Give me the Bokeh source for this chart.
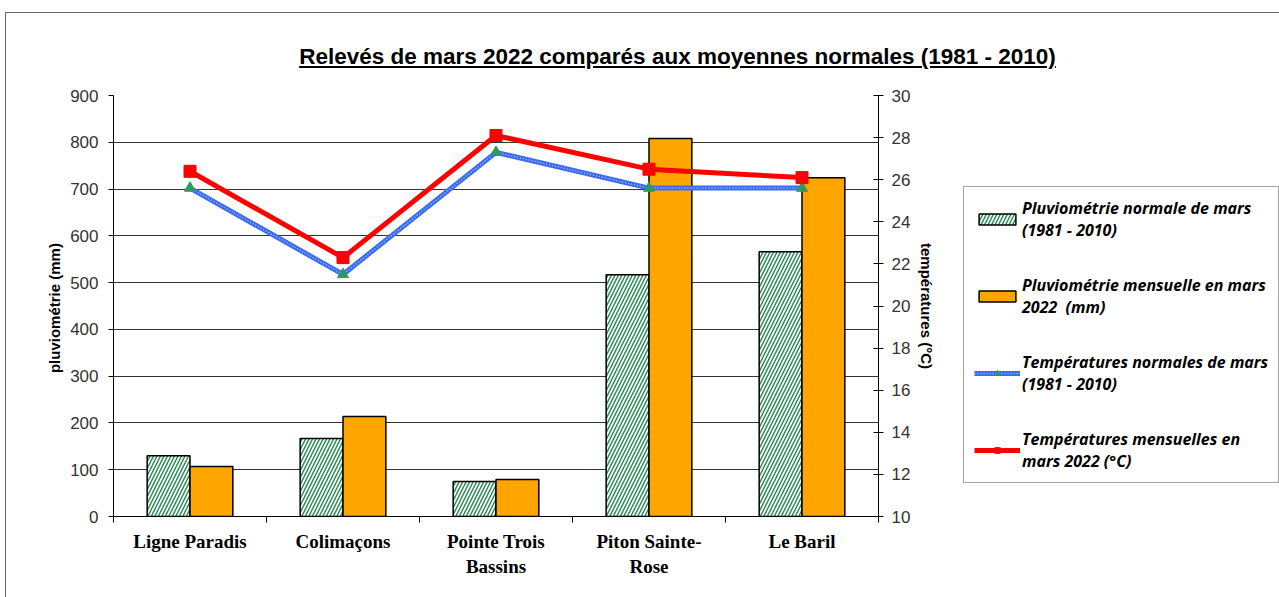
import numpy as np
from bokeh.plotting import figure
from bokeh.models import (Range1d, LinearAxis, FixedTicker, Legend, LegendItem, Grid, Div)
from bokeh.layouts import column, row
from bokeh.embed import file_html
from bokeh.resources import INLINE

title_text = "Relevés de mars 2022 comparés aux moyennes normales (1981 - 2010)"
stations = ["Ligne Paradis", "Colimaçons", "Pointe Trois\nBassins", "Piton Sainte-\nRose", "Le Baril"]
pluvio_normale = [130, 167, 75, 517, 566]
pluvio_2022 = [107, 214, 79, 808, 724]
temp_normale = [25.6, 21.5, 27.3, 25.6, 25.6]
temp_2022 = [26.4, 22.3, 28.1, 26.5, 26.1]
left_ticks = list(range(0, 1000, 100))
right_ticks = list(range(10, 32, 2))
legend_labels = ["Pluviométrie normale de mars\n(1981 - 2010)",
                 "Pluviométrie mensuelle en mars\n2022  (mm)",
                 "Températures normales de mars\n(1981 - 2010)",
                 "Températures mensuelles en\nmars 2022 (°C)"]

x = np.arange(len(stations)) + 0.5

p = figure(width=952, height=517, output_backend="svg", toolbar_location=None,
           x_range=Range1d(0, len(stations)), y_range=Range1d(0, 900),
           min_border_left=107, min_border_right=80, min_border_top=15, min_border_bottom=81,
           x_axis_type=None, y_axis_type=None)
p.outline_line_color = None
p.background_fill_color = "white"
p.border_fill_color = "white"
p.extra_y_ranges = {"temp": Range1d(10, 30)}

# axes
yl = LinearAxis(ticker=FixedTicker(ticks=left_ticks, minor_ticks=[]))
yl.axis_label = "pluviométrie  (mm)"
yr = LinearAxis(y_range_name="temp", ticker=FixedTicker(ticks=right_ticks, minor_ticks=[]))
yr.axis_label = "températures (°C)"
xa = LinearAxis(ticker=FixedTicker(ticks=list(x), minor_ticks=list(range(len(stations) + 1))))
xa.major_label_overrides = {float(v): s for v, s in zip(x, stations)}
for ax in (yl, yr, xa):
    ax.axis_line_color = "black"
    ax.axis_line_width = 1
    ax.major_tick_line_color = "black"
    ax.minor_tick_line_color = "black"
    ax.major_label_text_font = "Liberation Sans"
    ax.major_label_text_font_size = "17px"
    ax.major_label_text_color = "#333"
    ax.axis_label_text_font = "Liberation Sans"
    ax.axis_label_text_font_style = "bold"
    ax.axis_label_text_font_size = "15px"
    ax.axis_label_text_color = "black"
yl.major_tick_out = 5
yl.major_tick_in = 0
yl.major_label_standoff = 10
yl.axis_label_standoff = 4
yr.major_tick_out = 5
yr.major_tick_in = 5
yr.major_label_standoff = 8
yr.axis_label_standoff = 5
xa.major_tick_out = 0
xa.major_tick_in = 0
xa.minor_tick_out = 6
xa.minor_tick_in = 0
xa.major_label_text_font = "Liberation Serif"
xa.major_label_text_font_style = "bold"
xa.major_label_text_font_size = "19px"
xa.major_label_text_color = "black"
xa.major_label_standoff = 8
p.add_layout(yl, "left")
p.add_layout(yr, "right")
p.add_layout(xa, "below")

g = Grid(dimension=1, ticker=yl.ticker, grid_line_color="#333", grid_line_width=1)
p.add_layout(g)

# styles
norm_bar = dict(fill_color="white", line_color="black", line_width=1.5,
                hatch_pattern="/", hatch_color="#2E8B57", hatch_scale=7, hatch_weight=1.5)
bar22 = dict(fill_color="#FFA500", line_color="black", line_width=1.5)
blue_line = dict(line_color="#3A6BF0", line_width=5)
blue_dots = dict(line_color="#A9C0FF", line_width=1.5, line_dash="1 2")
tri = dict(marker="triangle", size=11, fill_color="#2E9960", line_color="#2E9960")
red_line = dict(line_color="#FF0000", line_width=5)
sq = dict(marker="square", size=12, fill_color="#FF0000", line_color="#FF0000")

bw = 0.28


def draw(fig):
    rs = []
    rs.append([fig.vbar(x=x - bw / 2, top=pluvio_normale, bottom=0, width=bw, **norm_bar)])
    rs.append([fig.vbar(x=x + bw / 2, top=pluvio_2022, bottom=0, width=bw, **bar22)])
    rs.append([fig.line(x, temp_normale, y_range_name="temp", **blue_line),
               fig.line(x, temp_normale, y_range_name="temp", **blue_dots),
               fig.scatter(x, temp_normale, y_range_name="temp", **tri)])
    rs.append([fig.line(x, temp_2022, y_range_name="temp", **red_line),
               fig.scatter(x, temp_2022, y_range_name="temp", **sq)])
    return rs


draw(p)

# legend panel: a companion figure holding hidden copies of the series for the legend swatches
lf = figure(width=321, height=517, output_backend="svg", toolbar_location=None,
            x_range=Range1d(100, 101), y_range=Range1d(5000, 5001),
            min_border=0, x_axis_type=None, y_axis_type=None)
lf.extra_y_ranges = {"temp": Range1d(5000, 5001)}
lf.outline_line_color = None
lf.xgrid.visible = False
lf.ygrid.visible = False
lrs = draw(lf)
for grp in lrs:
    for r in grp:
        r.visible = False

legend = Legend(items=[LegendItem(label=lab, renderers=r) for lab, r in zip(legend_labels, lrs)],
                location=(5, 33))
legend.click_policy = "none"
legend.inactive_fill_alpha = 0
legend.label_text_font = "Open Sans"
legend.label_text_font_style = "bold italic"
legend.label_text_font_size = "16px"
legend.label_text_color = "black"
legend.glyph_width = 46
legend.glyph_height = 14
legend.spacing = 33
legend.padding = 10
legend.margin = 0
legend.label_standoff = 2
legend.border_line_color = "#444"
legend.border_line_width = 1
legend.background_fill_alpha = 1
lf.add_layout(legend, "center")

div = Div(text=('<div style="width:1273px;text-align:center;padding-left:70px;box-sizing:border-box;'
                'font-family:\'Liberation Sans\';font-weight:bold;font-size:22.5px;'
                'text-decoration:underline;color:black;line-height:26px;padding-top:31px">'
                + title_text + '</div>'),
          width=1273, height=67, styles={"margin": "0", "padding": "0"})

root = column(div, row(p, lf, spacing=0), spacing=0, margin=(12, 0, 0, 5),
              styles={"border": "1px solid #666", "background": "white"})

open("out.html", "w").write(file_html(root, INLINE))
